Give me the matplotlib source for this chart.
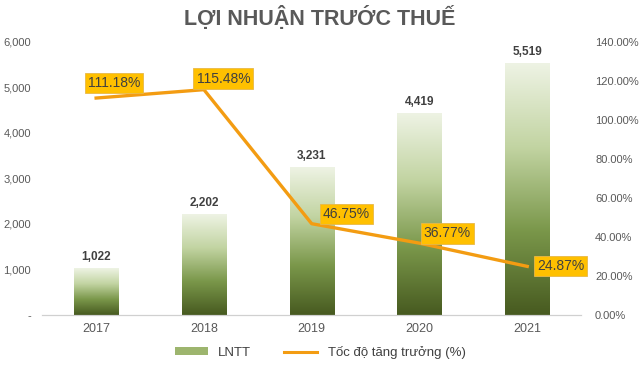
import numpy as np
import matplotlib.pyplot as plt
from matplotlib.colors import LinearSegmentedColormap
from matplotlib.patches import Patch
from matplotlib.lines import Line2D

years = ['2017', '2018', '2019', '2020', '2021']
lntt = [1022, 2202, 3231, 4419, 5519]
growth = [111.18, 115.48, 46.75, 36.77, 24.87]
# label offsets (points) for the growth labels
label_offsets = [(13, 11), (14, 8), (25, 7), (20, 7), (24, 0)]

plt.rcParams['font.family'] = ['Liberation Sans', 'DejaVu Sans']

fig = plt.figure(figsize=(6.4, 3.67), dpi=100)
ax = fig.add_axes([0.066, 0.142, 0.842, 0.744])
ax2 = ax.twinx()

cmap = LinearSegmentedColormap.from_list('green_grad', ['#475a20', '#7a974a', '#c2d4a2', '#eef3e4'])
grad = np.linspace(0, 1, 256).reshape(-1, 1)
x = np.arange(len(years))
width = 0.41
for xi, h in zip(x, lntt):
    ax.imshow(grad, extent=[xi - width / 2, xi + width / 2, 0, h], origin='lower',
              aspect='auto', cmap=cmap, zorder=2)
    ax.text(xi, h + 120, f'{h:,}', ha='center', va='bottom', fontsize=8.5,
            fontweight='bold', color='#404040')

ax.set_xlim(-0.5, len(years) - 0.5)
ax.set_ylim(0, 6000)
ax.set_yticks(range(0, 6001, 1000))
ax.set_yticklabels(['-'] + [f'{v:,}' for v in range(1000, 6001, 1000)])
ax.set_xticks(x)
ax.set_xticklabels(years)

ax2.plot(x, growth, color='#f39c12', linewidth=2.4, zorder=3)
ax2.set_ylim(0, 140)
ax2.set_yticks(range(0, 141, 20))
ax2.set_yticklabels([f'{v:.2f}%' for v in range(0, 141, 20)])
for xi, g, off in zip(x, growth, label_offsets):
    ax2.annotate(f'{g:.2f}%', (xi, g), xytext=off, textcoords='offset points',
                 ha='center', va='center', fontsize=10, color='#404040',
                 bbox=dict(boxstyle='square,pad=0.22', fc='#ffc000', ec='#e8b848', lw=0.6))

for a in (ax, ax2):
    for s in ['top', 'left', 'right']:
        a.spines[s].set_visible(False)
    a.spines['bottom'].set_color('#d0d0d0')
    a.tick_params(length=0, labelsize=8, colors='#595959')
ax.tick_params(axis='x', labelsize=9, pad=6)
ax.tick_params(axis='y', pad=8)
ax2.tick_params(axis='y', pad=10)

fig.suptitle('LỢI NHUẬN TRƯỚC THUẾ', x=0.5, y=0.985, fontsize=15.5, fontweight='bold',
             color='#595959')

handles = [Patch(facecolor='#9db56e', edgecolor='none'),
           Line2D([0], [0], color='#f39c12', linewidth=2.2)]
fig.legend(handles, ['LNTT', 'Tốc độ tăng trưởng (%)'], loc='lower center',
           bbox_to_anchor=(0.5, -0.01), ncol=2, frameon=False, fontsize=9.5,
           handlelength=2.5, handleheight=0.5, columnspacing=2.5, labelcolor='#404040')

fig.savefig('out.png', dpi=100)
